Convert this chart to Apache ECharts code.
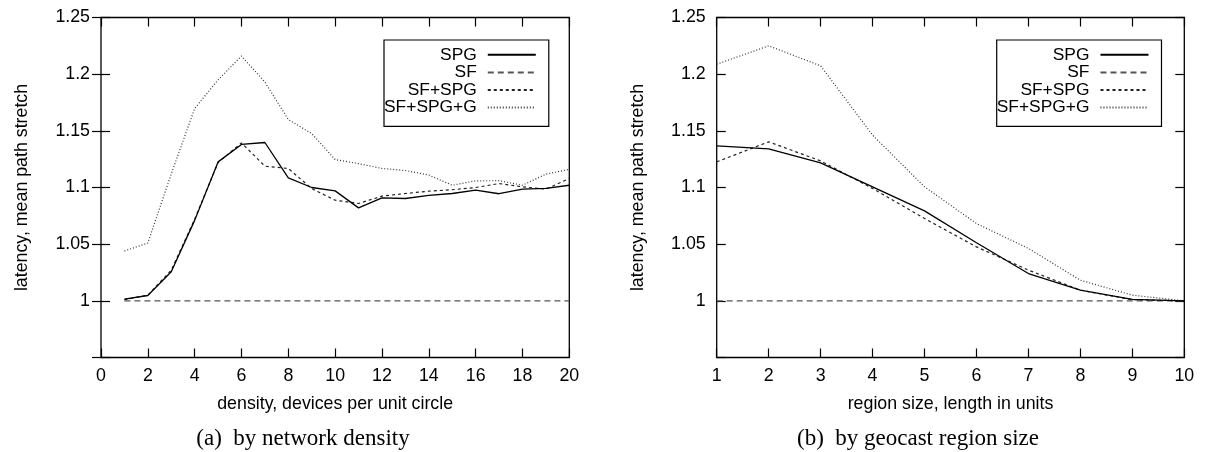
<!DOCTYPE html>
<html>
<head>
<meta charset="utf-8">
<script src="https://cdn.jsdelivr.net/npm/echarts@6/dist/echarts.min.js"></script>
<style>
html,body{margin:0;padding:0;background:#fff;}
#chart{width:1205px;height:452px;}
</style>
</head>
<body>
<div id="chart"></div>
<script>
// ---- data: (a) by network density ----
const densityX = [1,2,3,4,5,6,7,8,9,10,11,12,13,14,15,16,17,18,19,20];
const densitySPG = [1.0015,1.0047,1.0256,1.071,1.1226,1.138,1.1397,1.1085,1.100,1.097,1.082,1.0909,1.0903,1.093,1.0947,1.0976,1.0945,1.0985,1.0992,1.102];
const densitySF = [1,1,1,1,1,1,1,1,1,1,1,1,1,1,1,1,1,1,1,1];
const densitySFSPG = [1.001,1.005,1.027,1.072,1.122,1.1394,1.1188,1.1168,1.099,1.0888,1.0859,1.0924,1.0947,1.0968,1.098,1.100,1.1035,1.1006,1.0985,1.108];
const densitySFSPGG = [1.044,1.051,1.112,1.1697,1.195,1.216,1.193,1.160,1.1476,1.1247,1.121,1.1168,1.115,1.111,1.102,1.1059,1.106,1.102,1.1118,1.116];
// ---- data: (b) by geocast region size ----
const regionX = [1,2,3,4,5,6,7,8,9,10];
const regionSPG = [1.1368,1.1341,1.1218,1.1006,1.0794,1.0512,1.0241,1.0094,1.0012,1.0];
const regionSF = [1,1,1,1,1,1,1,1,1,1];
const regionSFSPG = [1.1226,1.1403,1.1235,1.0991,1.0726,1.0476,1.0271,1.0094,1.001,1.0];
const regionSFSPGG = [1.2088,1.225,1.2074,1.1462,1.1006,1.0682,1.0462,1.0182,1.005,1.0];
// ---- labels ----
const seriesNames = ['SPG','SF','SF+SPG','SF+SPG+G'];
const yName = 'latency, mean path stretch';
const xNames = ['density, devices per unit circle','region size, length in units'];
const captions = ['(a)  by network density','(b)  by geocast region size'];

const FONT = 'Liberation Sans';
const FS = 17.8;
const styles = [
  {color:'#000', type:'solid', width:1.3},
  {color:'#555', type:[6,4], width:1.2},
  {color:'#222', type:[3,3], width:1.2},
  {color:'#333', type:[1,2], width:1.2}
];

function pairs(xs, ys){ return xs.map((x,i)=>[x,ys[i]]); }
function yFmt(v){ if (v < 0.97) return ''; return String(Number(v.toFixed(2))); }

const grids = [
  {left:101, top:17.5, width:468.3, height:340},
  {left:716.7, top:17.5, width:467.6, height:340}
];

const tickIn = {show:true, inside:true, length:9, lineStyle:{color:'#000', width:1.2}};
const xCfg = [{min:0,max:20,interval:2},{min:1,max:10,interval:1}];

const xAxis = [], yAxis = [];
[0,1].forEach(g=>{
  xAxis.push({type:'value', gridIndex:g, position:'bottom', ...xCfg[g],
    axisLine:{show:false}, axisTick:tickIn, splitLine:{show:false},
    axisLabel:{color:'#000', fontFamily:FONT, fontSize:FS, margin:10},
    name:xNames[g], nameLocation:'middle', nameGap:38,
    nameTextStyle:{color:'#000', fontFamily:FONT, fontSize:FS}});
  xAxis.push({type:'value', gridIndex:g, position:'top', ...xCfg[g],
    axisLine:{show:false}, axisTick:tickIn, splitLine:{show:false}, axisLabel:{show:false}});
  yAxis.push({type:'value', gridIndex:g, position:'left', min:0.95, max:1.25, interval:0.05,
    axisLine:{show:false}, axisTick:tickIn, splitLine:{show:false},
    axisLabel:{color:'#000', fontFamily:FONT, fontSize:FS, margin:11, formatter:yFmt},
    name:yName, nameLocation:'middle', nameGap:70, nameRotate:90,
    nameTextStyle:{color:'#000', fontFamily:FONT, fontSize:FS}});
  yAxis.push({type:'value', gridIndex:g, position:'right', min:0.95, max:1.25, interval:0.05,
    axisLine:{show:false}, axisTick:tickIn, splitLine:{show:false}, axisLabel:{show:false}});
});

const dataSets = [
  [densitySPG, densitySF, densitySFSPG, densitySFSPGG],
  [regionSPG, regionSF, regionSFSPG, regionSFSPGG]
];
const xs = [densityX, regionX];
const series = [];
[0,1].forEach(g=>{
  seriesNames.forEach((n,i)=>{
    series.push({type:'line', name:n, xAxisIndex:g*2, yAxisIndex:g*2,
      data:pairs(xs[g], dataSets[g][i]), showSymbol:false, symbol:'none',
      silent:true, animation:false,
      lineStyle:styles[i], itemStyle:{color:'transparent', opacity:0}, z: 10 - i});
  });
});

const legendBase = {
  orient:'vertical', align:'right',
  itemWidth:48, itemHeight:12, itemGap:0,
  padding:[6,12,10,0],
  borderColor:'#000', borderWidth:1.2, backgroundColor:'#fff',
  itemStyle:{opacity:0, color:'transparent', borderWidth:0},
  textStyle:{color:'#000', fontFamily:FONT, fontSize:17.4, lineHeight:17.6, padding:[0,6,0,0]},
  selectedMode:false, data:seriesNames
};

const option = {
  animation:false,
  backgroundColor:'#fff',
  grid: grids.map(g=>({...g, show:true, borderColor:'#000', borderWidth:1.3, backgroundColor:'transparent'})),
  xAxis, yAxis, series,
  legend:[
    {...legendBase, left:384, top:40},
    {...legendBase, left:996.7, top:40}
  ],
  title:[
    {text:captions[0], left:298, top:422, textAlign:'center',
      textStyle:{color:'#000', fontFamily:'Liberation Serif', fontSize:23, fontWeight:'normal'}},
    {text:captions[1], left:913, top:422, textAlign:'center',
      textStyle:{color:'#000', fontFamily:'Liberation Serif', fontSize:23, fontWeight:'normal'}}
  ]
};

const chart = echarts.init(document.getElementById('chart'), null, {renderer:'canvas'});
chart.setOption(option);
</script>
</body>
</html>
